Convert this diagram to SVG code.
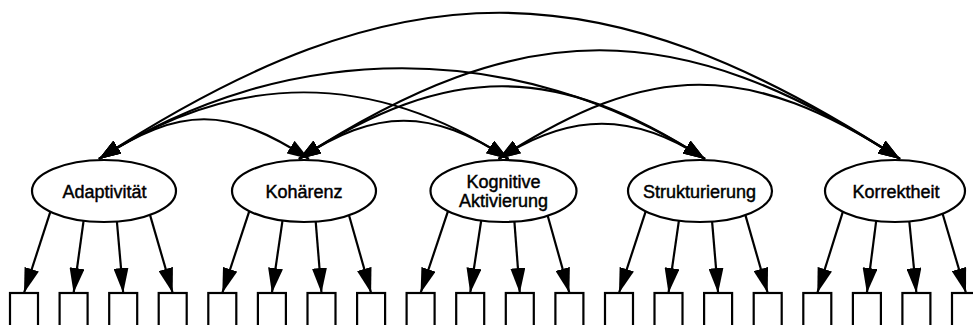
<svg xmlns="http://www.w3.org/2000/svg" width="973" height="325" viewBox="0 0 973 325">
<defs>
<style>
.lat{fill:#fff;stroke:#000;stroke-width:2.2}
.ind{fill:#fff;stroke:#000;stroke-width:2.2}
.lbl{font-family:"Liberation Sans",Arial,sans-serif;font-size:18px;fill:#000;stroke:#000;stroke-width:0.45;text-anchor:middle}
.cov{fill:none;stroke:#000;stroke-width:2.2;marker-start:url(#ah);marker-end:url(#ah)}
.load{fill:none;stroke:#000;stroke-width:2.2;marker-end:url(#ahb)}
</style>
<marker id="ah" markerUnits="userSpaceOnUse" viewBox="0 0 22 15" refX="22" refY="7.5" markerWidth="22" markerHeight="15" orient="auto-start-reverse">
<path d="M0,0 L22,7.5 L0,15 z" fill="#000"/>
</marker>
<marker id="ahb" markerUnits="userSpaceOnUse" viewBox="0 0 25 15" refX="25" refY="7.5" markerWidth="25" markerHeight="15" orient="auto">
<path d="M0,0 L25,7.5 L0,15 z" fill="#000"/>
</marker>
</defs>
<rect width="973" height="325" fill="#fff"/>

<g id="connectors">
<path class="cov" d="M99,159 C181,106 227,106 309,159"/>
<path class="cov" d="M99,159 C236,70 371.5,70 508.5,159"/>
<path class="cov" d="M99,159 C286,38 518,38 705,159"/>
<path class="cov" d="M99,159 C399,-36 600,-36 900,159"/>
<path class="cov" d="M299,159 C377,108 430.5,108 508.5,159"/>
<path class="cov" d="M299,159 C449,62 555,62 705,159"/>
<path class="cov" d="M299,159 C523,14 676,14 900,159"/>
<path class="cov" d="M498.5,159 C570.5,112 633,112 705,159"/>
<path class="cov" d="M498.5,159 C650.5,60 748,60 900,159"/>

<line class="load" x1="50.4" y1="211.7" x2="24" y2="293"/>
<line class="load" x1="83.6" y1="220.7" x2="73.6" y2="293"/>
<line class="load" x1="116.9" y1="221.5" x2="123.2" y2="293"/>
<line class="load" x1="150" y1="214.9" x2="172.7" y2="293"/>

<line class="load" x1="249.3" y1="211.1" x2="222.3" y2="293"/>
<line class="load" x1="282.5" y1="220.6" x2="271.9" y2="293"/>
<line class="load" x1="315.7" y1="221.6" x2="321.5" y2="293"/>
<line class="load" x1="349" y1="215.2" x2="371.1" y2="293"/>

<line class="load" x1="448" y1="211.1" x2="420.6" y2="293"/>
<line class="load" x1="481.2" y1="220.5" x2="470.2" y2="293"/>
<line class="load" x1="514.4" y1="221.7" x2="519.8" y2="293"/>
<line class="load" x1="547.7" y1="215.7" x2="569.4" y2="293"/>

<line class="load" x1="645.7" y1="211.3" x2="619" y2="293"/>
<line class="load" x1="678.9" y1="220.6" x2="668.5" y2="293"/>
<line class="load" x1="712.1" y1="221.6" x2="718.1" y2="293"/>
<line class="load" x1="745.4" y1="215.1" x2="767.7" y2="293"/>

<line class="load" x1="842.9" y1="211.7" x2="817.3" y2="293"/>
<line class="load" x1="876.2" y1="220.9" x2="866.9" y2="293"/>
<line class="load" x1="909.3" y1="221.3" x2="916.4" y2="293"/>
<line class="load" x1="942.6" y1="213.7" x2="966" y2="293"/>
</g>

<g id="adaptivitaet">
<ellipse class="lat" cx="104" cy="191" rx="72" ry="31"/>
<text class="lbl" x="104.5" y="198">Adaptivität</text>
</g>
<g id="kohaerenz">
<ellipse class="lat" cx="304" cy="191" rx="72" ry="31"/>
<text class="lbl" x="304" y="198">Kohärenz</text>
</g>
<g id="kognitive_aktivierung">
<ellipse class="lat" cx="503.5" cy="191" rx="73" ry="31"/>
<text class="lbl" x="503.5" y="188">Kognitive</text>
<text class="lbl" x="503.5" y="207">Aktivierung</text>
</g>
<g id="strukturierung">
<ellipse class="lat" cx="700" cy="191" rx="72" ry="31"/>
<text class="lbl" x="699.5" y="198">Strukturierung</text>
</g>
<g id="korrektheit">
<ellipse class="lat" cx="895" cy="191" rx="70" ry="31"/>
<text class="lbl" x="896" y="198">Korrektheit</text>
</g>

<g id="i1"><rect class="ind" x="10" y="293" width="28" height="40"/></g>
<g id="i2"><rect class="ind" x="59.6" y="293" width="28" height="40"/></g>
<g id="i3"><rect class="ind" x="109.2" y="293" width="28" height="40"/></g>
<g id="i4"><rect class="ind" x="158.7" y="293" width="28" height="40"/></g>
<g id="i5"><rect class="ind" x="208.3" y="293" width="28" height="40"/></g>
<g id="i6"><rect class="ind" x="257.9" y="293" width="28" height="40"/></g>
<g id="i7"><rect class="ind" x="307.5" y="293" width="28" height="40"/></g>
<g id="i8"><rect class="ind" x="357.1" y="293" width="28" height="40"/></g>
<g id="i9"><rect class="ind" x="406.6" y="293" width="28" height="40"/></g>
<g id="i10"><rect class="ind" x="456.2" y="293" width="28" height="40"/></g>
<g id="i11"><rect class="ind" x="505.8" y="293" width="28" height="40"/></g>
<g id="i12"><rect class="ind" x="555.4" y="293" width="28" height="40"/></g>
<g id="i13"><rect class="ind" x="605" y="293" width="28" height="40"/></g>
<g id="i14"><rect class="ind" x="654.5" y="293" width="28" height="40"/></g>
<g id="i15"><rect class="ind" x="704.1" y="293" width="28" height="40"/></g>
<g id="i16"><rect class="ind" x="753.7" y="293" width="28" height="40"/></g>
<g id="i17"><rect class="ind" x="803.3" y="293" width="28" height="40"/></g>
<g id="i18"><rect class="ind" x="852.9" y="293" width="28" height="40"/></g>
<g id="i19"><rect class="ind" x="902.4" y="293" width="28" height="40"/></g>
<g id="i20"><rect class="ind" x="952" y="293" width="28" height="40"/></g>
</svg>
